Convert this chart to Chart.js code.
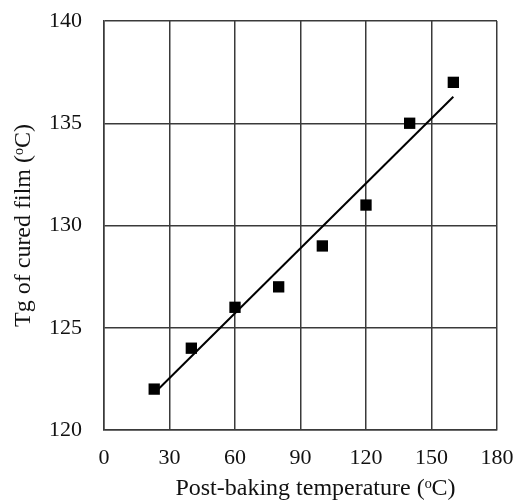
<!DOCTYPE html>
<html>
<head>
<meta charset="utf-8">
<script src="https://cdn.jsdelivr.net/npm/chart.js@4"></script>
<style>
  html, body { margin: 0; padding: 0; background: #fff; }
  #wrap { width: 518px; height: 503px; }
</style>
</head>
<body>
<div id="wrap"><canvas id="tgChart" width="518" height="503"></canvas></div>
<script>
// Post-baking temperature (°C) vs Tg of cured film
const bakeTemps = [23, 40, 60, 80, 100, 120, 140, 160];
const tgValues = [122, 124, 126, 127, 129, 131, 135, 137];
// linear fit, end points
const fitTemps = [23, 160];
const fitTg = [121.8, 136.3];

const xTicks = [0, 30, 60, 90, 120, 150, 180];
const yTicks = [120, 125, 130, 135, 140];

const serif = "'Liberation Serif', 'Times New Roman', serif";
const gridColor = '#3a3a3a';

const ctx = document.getElementById('tgChart').getContext('2d');

new Chart(ctx, {
    type: 'scatter',
    data: {
        datasets: [{
            label: 'Tg',
            data: bakeTemps.map((t, i) => ({ x: t, y: tgValues[i] })),
            pointStyle: 'rect',
            pointRadius: 8,
            backgroundColor: '#000',
            borderColor: '#000',
            borderWidth: 0,
            order: 1
        }, {
            label: 'fit',
            type: 'line',
            data: fitTemps.map((t, i) => ({ x: t, y: fitTg[i] })),
            borderColor: '#000',
            borderWidth: 2,
            pointRadius: 0,
            fill: false,
            order: 2
        }]
    },
    options: {
        responsive: false,
        animation: false,
        layout: { padding: { left: 0, right: 21, top: 21, bottom: 0 } },
        plugins: {
            legend: { display: false },
            tooltip: { enabled: false }
        },
        scales: {
            x: {
                type: 'linear',
                min: 0,
                max: 180,
                afterBuildTicks: s => { s.ticks = xTicks.map(v => ({ value: v })); },
                afterFit: s => {
                    s.height = 73;
                    // let layout.padding alone decide the plot edges
                    s.paddingLeft = 0;
                    s.paddingRight = 0;
                },
                grid: { color: gridColor, lineWidth: 1.5, drawTicks: false },
                border: { color: gridColor, width: 1.5 },
                ticks: { color: '#111', padding: 15, font: { family: serif, size: 22 } },
                title: {
                    display: true,
                    // leading spaces nudge the title right like the original
                    text: '     Post-baking temperature (ᵒC)',
                    color: '#111',
                    padding: { top: 0, bottom: 0 },
                    font: { family: serif, size: 24 }
                }
            },
            y: {
                type: 'linear',
                min: 120,
                max: 140,
                afterBuildTicks: s => { s.ticks = yTicks.map(v => ({ value: v })); },
                afterFit: s => {
                    s.width = 104;
                    s.paddingTop = 0;
                    s.paddingBottom = 0;
                },
                grid: { color: gridColor, lineWidth: 1.5, drawTicks: false },
                border: { color: gridColor, width: 1.5 },
                ticks: { color: '#111', padding: 22, font: { family: serif, size: 22 } },
                title: {
                    display: true,
                    text: 'Tg of cured film (ᵒC)',
                    color: '#111',
                    padding: { top: 9, bottom: 0 },
                    font: { family: serif, size: 24 }
                }
            }
        }
    }
});
</script>
</body>
</html>
